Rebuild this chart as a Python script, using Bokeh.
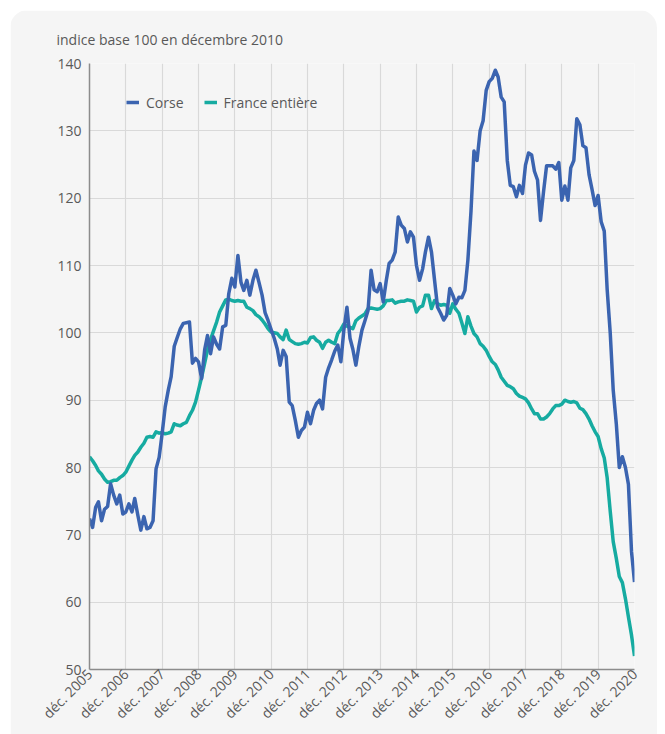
import pandas as pd
from bokeh.plotting import figure
from bokeh.models import FixedTicker, Range1d, Legend, LegendItem, Title
from bokeh.embed import file_html
from bokeh.resources import INLINE

# Monthly series, déc. 2005 -> déc. 2020 (indice base 100 en décembre 2010)
dates = pd.date_range("2005-12-01", periods=181, freq="MS")

corse = [
    72.4, 71.1, 74.1, 74.9, 72.1, 73.8, 74.2, 77.6, 75.9, 74.6, 75.9, 73.1,
    73.4, 74.6, 73.4, 75.4, 72.9, 70.7, 72.7, 70.9, 71.1, 72.1, 79.8, 81.5,
    85.0, 89.0, 91.5, 93.5, 98.0, 99.3, 100.6, 101.4, 101.5, 101.6, 95.5, 96.2,
    95.7, 93.2, 97.5, 99.6, 96.9, 99.4, 98.3, 97.6, 100.9, 101.1, 105.8, 108.1,
    106.8, 111.5, 107.5, 106.3, 107.8, 105.6, 107.8, 109.3, 107.5, 105.6, 103.0, 101.8,
    100.5, 99.2, 97.6, 95.2, 97.4, 96.5, 89.7, 89.2, 87.0, 84.5, 85.5, 86.0,
    88.2, 86.5, 88.5, 89.5, 90.0, 88.7, 93.4, 94.8, 96.0, 97.3, 98.2, 95.7,
    100.4, 103.8, 99.2, 97.6, 95.2, 98.0, 100.4, 101.8, 103.3, 109.3, 106.4, 106.1,
    107.3, 104.6, 107.8, 110.3, 110.8, 112.0, 117.2, 116.0, 115.5, 113.5, 115.0, 114.2,
    110.0, 107.8, 109.5, 112.0, 114.2, 112.0, 107.8, 103.8, 102.9, 101.9, 102.6, 106.6,
    105.6, 104.3, 105.3, 105.2, 106.3, 110.8, 118.0, 127.0, 125.6, 130.0, 131.5, 136.0,
    137.3, 137.8, 139.0, 138.0, 135.0, 134.3, 125.6, 121.9, 121.7, 120.2, 121.9, 120.7,
    124.9, 126.7, 126.4, 124.0, 122.7, 116.7, 121.0, 124.8, 124.8, 124.8, 124.3, 125.3,
    119.7, 121.8, 119.7, 124.5, 125.6, 131.8, 130.9, 127.8, 127.5, 123.5, 121.3, 118.9,
    120.4, 116.5, 115.1, 106.5, 100.0, 91.5, 86.5, 80.0, 81.6, 80.0, 77.5, 67.5,
    63.0,
]

france = [
    81.6, 81.0, 80.3, 79.5, 79.0, 78.3, 77.8, 77.9, 78.1, 78.1, 78.5, 78.8,
    79.3, 80.2, 81.1, 81.8, 82.3, 83.0, 83.6, 84.5, 84.6, 84.5, 85.3, 85.1,
    85.2, 85.0, 85.1, 85.3, 86.5, 86.3, 86.2, 86.5, 86.7, 87.7, 88.5, 89.7,
    91.5, 93.4, 95.5, 97.4, 99.0, 100.3, 101.6, 103.1, 104.0, 104.9, 105.0, 104.8,
    104.7, 104.8, 104.7, 104.7, 103.8, 103.6, 103.3, 102.7, 102.4, 101.9, 101.3, 100.6,
    100.1, 100.0, 99.9, 99.4, 99.0, 100.4, 99.0, 98.7, 98.4, 98.3, 98.4, 98.6,
    98.5, 99.3, 99.4, 98.9, 98.6, 97.7, 98.6, 98.9, 98.6, 98.4, 99.9, 100.5,
    101.3, 101.0, 100.8, 100.6, 101.8, 102.2, 102.5, 102.8, 103.6, 103.7, 103.6, 103.5,
    103.6, 104.0, 104.8, 104.8, 104.9, 104.4, 104.6, 104.7, 104.7, 104.9, 104.8, 104.7,
    103.1, 103.8, 104.0, 105.6, 105.6, 103.6, 104.8, 104.3, 104.1, 104.2, 104.1, 102.9,
    104.3, 103.5, 102.9, 101.5, 99.9, 102.4, 101.0, 99.9, 99.4, 98.4, 98.0, 97.4,
    96.5, 95.7, 95.3, 94.5, 93.4, 92.8, 92.2, 92.0, 91.7, 91.0, 90.6, 90.4,
    90.2, 89.6, 88.7, 88.0, 88.0, 87.2, 87.2, 87.5, 88.0, 88.7, 89.2, 89.2,
    89.4, 90.0, 89.8, 89.7, 89.8, 89.6, 88.8, 88.6, 88.0, 87.2, 86.2, 85.3,
    84.6, 82.8, 81.4, 78.5, 73.5, 69.0, 66.5, 63.8, 62.9, 60.5, 57.8, 55.1,
    52.0,
]

tick_years = list(range(2005, 2021))
y_ticks = [50, 60, 70, 80, 90, 100, 110, 120, 130, 140]

series_names = ["Corse", "France entière"]
colors = ["#3b64b0", "#16aba1"]

CARD = "#f5f5f5"
TXT = "#595959"
FONT = "Open Sans"

p = figure(
    width=647, height=724,
    x_axis_type="datetime",
    output_backend="svg", toolbar_location=None,
    min_border_left=79, min_border_right=23, min_border_top=53, min_border_bottom=65,
    background_fill_color=CARD, border_fill_color=CARD,
)
p.styles = {"border-radius": "18px 18px 0 0", "overflow": "hidden",
            "margin-left": "10px", "margin-top": "10px"}
p.outline_line_color = None

p.title = Title(text="indice base 100 en décembre 2010", align="left",
                offset=-33, standoff=29,
                text_font=FONT, text_font_size="14px", text_color=TXT,
                text_font_style="normal")

p.x_range = Range1d(dates[0], dates[-1])
p.y_range = Range1d(50, 140)

r1 = p.line(dates, corse, line_color=colors[0], line_width=3.5, line_join="round")
r2 = p.line(dates, france, line_color=colors[1], line_width=3.5, line_join="round")
p.renderers = [r2, r1]

tick_ms = [pd.Timestamp(f"{y}-12-01").value / 1e6 for y in tick_years]
p.xaxis.ticker = FixedTicker(ticks=tick_ms)
p.xaxis.major_label_overrides = {t: f"déc. {y}" for t, y in zip(tick_ms, tick_years)}
p.yaxis.ticker = FixedTicker(ticks=y_ticks)

for ax in (p.xaxis, p.yaxis):
    ax.axis_line_color = "#8c8c8c"
    ax.axis_line_width = 1.5
    ax.major_tick_line_color = None
    ax.minor_tick_line_color = None
    ax.major_tick_out = 0
    ax.major_tick_in = 0
    ax.minor_tick_out = 0
    ax.major_label_text_color = TXT
    ax.major_label_text_font = FONT
    ax.major_label_text_font_size = "14px"
p.xaxis.major_label_orientation = 0.785398
p.xaxis.major_label_standoff = 2
p.yaxis.major_label_standoff = 8

p.grid.grid_line_color = "#d9d9d9"
p.grid.grid_line_width = 1.2

legend = Legend(
    items=[LegendItem(label=series_names[0], renderers=[r1]),
           LegendItem(label=series_names[1], renderers=[r2])],
    orientation="horizontal", location=(37, 557),
    background_fill_alpha=0, border_line_color=None,
    label_text_font=FONT, label_text_font_size="14px", label_text_color=TXT,
    glyph_width=13, glyph_height=20, label_standoff=7, spacing=20,
    padding=0, margin=0,
)
p.add_layout(legend, "center")

open("out.html", "w").write(file_html(p, INLINE))
